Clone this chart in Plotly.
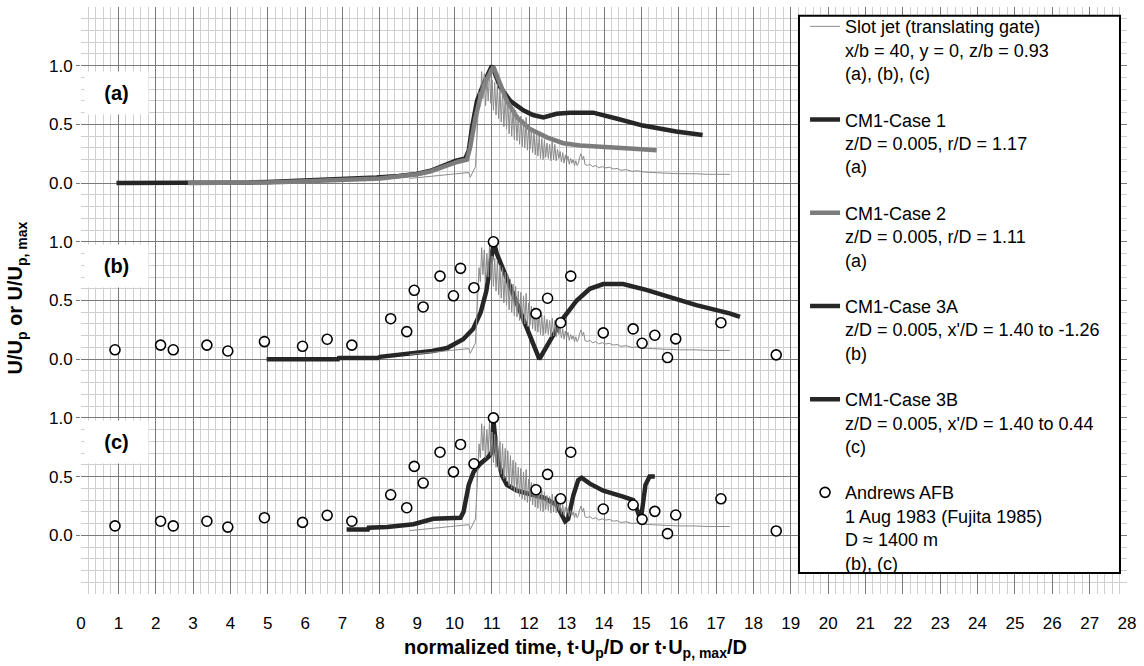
import plotly.graph_objects as go

# ---------------- data (panel-local values) ----------------
slot_x = [8.80, 9.00, 9.36, 9.60, 9.89, 10.10, 10.38, 10.42, 10.47, 10.56, 10.60,
          10.62, 10.655, 10.69, 10.725, 10.76, 10.795, 10.83, 10.865, 10.90, 10.935, 10.97, 11.005,
          11.04, 11.075, 11.11, 11.145, 11.18, 11.215, 11.25, 11.285, 11.32, 11.355, 11.39, 11.425,
          11.46, 11.495, 11.53, 11.565, 11.60, 11.635, 11.67, 11.705, 11.74, 11.775, 11.81, 11.845,
          11.88, 11.915, 11.95, 11.985, 12.02, 12.055, 12.09, 12.125, 12.16, 12.195, 12.23, 12.265,
          12.30, 12.335, 12.37, 12.405, 12.44, 12.475, 12.51, 12.545, 12.58, 12.615, 12.65, 12.685,
          12.72, 12.755, 12.79, 12.825, 12.86, 12.895, 12.93, 12.965, 13.00, 13.035, 13.07, 13.105,
          13.14, 13.175, 13.21, 13.245, 13.28, 13.315, 13.35, 13.385, 13.42, 13.455, 13.49, 13.55,
          13.62, 13.70, 13.78, 13.86, 13.95, 14.05, 14.15, 14.25, 14.35, 14.45, 14.60, 14.75, 14.90,
          15.05, 15.30, 15.60, 16.00, 16.40, 16.80, 17.37]
slot_y = [0.040, 0.045, 0.055, 0.065, 0.075, 0.080, 0.090, 0.050, 0.080, 0.140, 0.400,
          0.55, 0.78, 0.66, 0.95, 0.72, 0.93, 0.66, 0.90, 0.70, 0.97, 0.68, 0.88,
          0.62, 0.86, 0.58, 0.84, 0.55, 0.80, 0.52, 0.78, 0.48, 0.74, 0.46, 0.72,
          0.42, 0.68, 0.40, 0.64, 0.37, 0.62, 0.36, 0.58, 0.33, 0.57, 0.31, 0.54,
          0.30, 0.56, 0.28, 0.48, 0.29, 0.45, 0.26, 0.44, 0.24, 0.42, 0.23, 0.40,
          0.21, 0.38, 0.20, 0.37, 0.22, 0.34, 0.21, 0.33, 0.19, 0.35, 0.20, 0.33,
          0.19, 0.29, 0.21, 0.27, 0.18, 0.26, 0.17, 0.24, 0.18, 0.23, 0.16, 0.21,
          0.17, 0.20, 0.15, 0.19, 0.15, 0.17, 0.22, 0.25, 0.20, 0.23, 0.16, 0.15,
          0.16, 0.14, 0.15, 0.13, 0.14, 0.13, 0.135, 0.12, 0.125, 0.11, 0.115, 0.10, 0.105,
          0.095, 0.09, 0.085, 0.08, 0.08, 0.075, 0.075]

case1_x = [0.95, 2.90, 3.00, 4.50, 5.00, 6.00, 6.75, 7.50, 7.91, 8.50, 8.98, 9.36, 9.70, 10.02, 10.29,
           10.38, 10.47, 10.60, 10.78, 11.00, 11.22, 11.49, 11.84, 12.10, 12.38, 12.73, 13.09, 13.71,
           14.33, 15.04, 15.93, 16.64]
case1_y = [0.0, 0.0, 0.0, 0.005, 0.01, 0.02, 0.03, 0.04, 0.048, 0.06, 0.077, 0.105, 0.15, 0.19, 0.21,
           0.28, 0.48, 0.70, 0.85, 1.00, 0.82, 0.70, 0.62, 0.58, 0.56, 0.59, 0.60, 0.60,
           0.55, 0.49, 0.44, 0.41]

case2_x = [2.86, 4.00, 5.00, 6.00, 7.00, 8.00, 9.00, 9.36, 10.07, 10.33, 10.42, 10.56, 10.69, 10.87,
           11.04, 11.18, 11.40, 11.67, 12.02, 12.47, 12.91, 13.36, 14.16, 14.69, 15.41]
case2_y = [0.0, 0.0, 0.005, 0.015, 0.025, 0.04, 0.075, 0.10, 0.18, 0.20, 0.31, 0.56, 0.73, 0.89,
           0.99, 0.87, 0.70, 0.56, 0.46, 0.39, 0.34, 0.32, 0.30, 0.295, 0.28]

case3a_x = [4.97, 6.88, 6.90, 7.95, 8.00, 8.98, 9.40, 9.80, 10.23, 10.50, 10.70, 10.85, 10.97, 11.05,
            11.13, 11.67, 12.27, 12.56, 12.91, 13.27, 13.62, 13.98, 14.51, 15.13, 15.76, 16.47,
            17.36, 17.64]
case3a_y = [0.0, 0.0, 0.01, 0.01, 0.02, 0.05, 0.07, 0.095, 0.17, 0.26, 0.40, 0.58, 0.82, 1.00,
            0.90, 0.48, 0.0, 0.16, 0.35, 0.50, 0.60, 0.64, 0.64, 0.59, 0.53, 0.46,
            0.39, 0.36]

case3b_x = [7.11, 7.68, 7.70, 8.20, 8.90, 9.43, 10.16, 10.24, 10.38, 10.51, 10.69, 10.91, 11.00, 11.04,
            11.08, 11.13, 11.27, 11.40, 11.67, 12.02, 12.38, 12.73, 12.82, 12.96, 13.04, 13.18, 13.31,
            13.40, 13.62, 13.98, 14.51, 14.78, 14.87, 14.98, 15.04, 15.11, 15.22, 15.36]
case3b_y = [0.05, 0.05, 0.065, 0.07, 0.094, 0.14, 0.15, 0.20, 0.43, 0.54, 0.61, 0.67, 0.71, 0.98,
            0.85, 0.68, 0.51, 0.43, 0.38, 0.355, 0.32, 0.26, 0.20, 0.12, 0.14, 0.34, 0.47,
            0.49, 0.44, 0.38, 0.33, 0.30, 0.23, 0.13, 0.26, 0.43, 0.50, 0.50]

afb_x = [0.91, 2.13, 2.47, 3.37, 3.93, 4.91, 5.93, 6.59, 7.25, 8.29, 8.72, 8.92, 9.16, 9.61, 9.97,
         10.16, 10.52, 11.04, 12.18, 12.49, 12.84, 13.11, 13.98, 14.78, 15.02, 15.36, 15.70, 15.92,
         17.13, 18.61]
afb_y = [0.08, 0.12, 0.08, 0.12, 0.07, 0.15, 0.11, 0.17, 0.12, 0.345, 0.235, 0.587, 0.445, 0.708, 0.54,
         0.774, 0.609, 1.0, 0.388, 0.519, 0.311, 0.708, 0.224, 0.258, 0.136, 0.204, 0.014, 0.173,
         0.311, 0.037]

panel_labels = ["(a)", "(b)", "(c)"]
panel_offsets = [3.0, 1.5, 0.0]   # vertical stacking of the three panels
ytick_vals = [0, 0.5, 1.0, 1.5, 2.0, 2.5, 3.0, 3.5, 4.0]
ytick_text = ["0.0", "0.5", "1.0", "0.0", "0.5", "1.0", "0.0", "0.5", "1.0"]

OFF_A, OFF_B, OFF_C = panel_offsets
DARK = "#262626"
GRAY = "#7c7c7c"
SLOT = "#8a8a8a"
FONT = "Liberation Sans, Arial, sans-serif"


def sh(vals, off):
    return [v + off for v in vals]


fig = go.Figure()

slot_name = "Slot jet (translating gate)<br>x/b = 40, y = 0, z/b = 0.93<br>(a), (b), (c)"
for i, off in enumerate(panel_offsets):
    fig.add_trace(go.Scatter(x=slot_x, y=sh(slot_y, off), mode="lines", name=slot_name,
                             line=dict(color=SLOT, width=1), legendgroup="slot",
                             showlegend=(i == 0), zorder=2))

fig.add_trace(go.Scatter(x=case1_x, y=sh(case1_y, OFF_A), mode="lines",
                         name="CM1-Case 1<br>z/D = 0.005, r/D = 1.17<br>(a)",
                         line=dict(color=DARK, width=4.5), legendgroup="c1", zorder=0))
fig.add_trace(go.Scatter(x=case2_x, y=sh(case2_y, OFF_A), mode="lines",
                         name="CM1-Case 2<br>z/D = 0.005, r/D = 1.11<br>(a)",
                         line=dict(color=GRAY, width=4.5), legendgroup="c2", zorder=1))
fig.add_trace(go.Scatter(x=case3a_x, y=sh(case3a_y, OFF_B), mode="lines",
                         name="CM1-Case 3A<br>z/D = 0.005, x'/D = 1.40 to -1.26<br>(b)",
                         line=dict(color=DARK, width=4.5), legendgroup="c3a", zorder=0))
fig.add_trace(go.Scatter(x=case3b_x, y=sh(case3b_y, OFF_C), mode="lines",
                         name="CM1-Case 3B<br>z/D = 0.005, x'/D = 1.40 to 0.44<br>(c)",
                         line=dict(color=DARK, width=4.5), legendgroup="c3b", zorder=0))

afb_name = "Andrews AFB<br>1 Aug 1983 (Fujita 1985)<br>D ≈ 1400 m<br>(b), (c)"
for i, off in enumerate([OFF_B, OFF_C]):
    fig.add_trace(go.Scatter(x=afb_x, y=sh(afb_y, off), mode="markers", name=afb_name,
                             marker=dict(symbol="circle", size=10, color="white",
                                         line=dict(color="black", width=1.6)),
                             legendgroup="afb", showlegend=(i == 0), zorder=3))

# panel labels
label_y = [3.77, 2.29, 0.795]
for txt, yy in zip(panel_labels, label_y):
    fig.add_annotation(x=0.95, y=yy, xref="x", yref="y", text=f"<b>{txt}</b>", showarrow=False,
                       font=dict(family=FONT, size=20, color="black"), bgcolor="white",
                       width=61, height=40)

# axis titles
fig.add_annotation(x=0.4732, y=-0.092, xref="paper", yref="paper", xanchor="center", yanchor="middle",
                   text="<b>normalized time, t·U<sub>p</sub>/D or t·U<sub>p, max</sub>/D</b>",
                   showarrow=False, font=dict(family=FONT, size=20, color="black"))
fig.add_annotation(x=-0.0612, y=0.505, xref="paper", yref="paper", xanchor="center", yanchor="middle",
                   textangle=-90, text="<b>U/U<sub>p</sub> or U/U<sub>p, max</sub></b>",
                   showarrow=False, font=dict(family=FONT, size=20, color="black"))

# legend frame
fig.add_shape(type="rect", xref="paper", yref="paper", x0=0.6864, x1=0.9933, y0=0.0358, y1=0.985,
              line=dict(color="black", width=2), fillcolor="white", layer="above")

fig.update_layout(
    width=1144, height=666,
    margin=dict(l=81, r=17, t=7, b=72),
    paper_bgcolor="white", plot_bgcolor="white",
    font=dict(family=FONT, color="black"),
    legend=dict(x=0.6922, y=0.998, xanchor="left", yanchor="top",
                bgcolor="rgba(0,0,0,0)", borderwidth=0,
                font=dict(family=FONT, size=18, color="black"),
                valign="top", traceorder="grouped", tracegroupgap=20, maxheight=1),
)
fig.update_xaxes(range=[0, 28], tickmode="linear", tick0=0, dtick=1,
                 showgrid=True, gridcolor="#7a7a7a", gridwidth=1,
                 minor=dict(dtick=0.2, tick0=0, showgrid=True, gridcolor="#cfcfcf", gridwidth=1),
                 showline=True, linecolor="#7a7a7a", linewidth=1, mirror=True,
                 ticks="", ticklabelstandoff=14, zeroline=False,
                 tickfont=dict(family=FONT, size=17, color="black"))
fig.update_yaxes(range=[-0.5, 4.5], tickmode="array", tickvals=ytick_vals, ticktext=ytick_text,
                 showgrid=True, gridcolor="#7a7a7a", gridwidth=1,
                 minor=dict(tickmode="linear", dtick=0.1, tick0=-0.5, showgrid=True,
                            gridcolor="#cfcfcf", gridwidth=1),
                 showline=True, linecolor="#7a7a7a", linewidth=1, mirror=True,
                 ticks="outside", ticklen=4, tickcolor="#7a7a7a", zeroline=False,
                 tickfont=dict(family=FONT, size=17, color="black"))

fig.write_html("out.html")
